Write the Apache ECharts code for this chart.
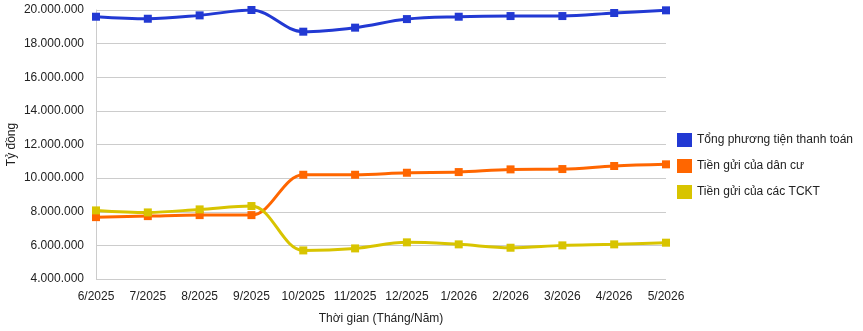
<!DOCTYPE html>
<html><head><meta charset="utf-8">
<script src="https://cdn.jsdelivr.net/npm/echarts@6/dist/echarts.min.js"></script>
<style>html,body{margin:0;padding:0;background:#fff}#c{width:863px;height:331px}</style>
</head><body><div id="c"></div>
<script>
const categories = ["6/2025","7/2025","8/2025","9/2025","10/2025","11/2025","12/2025","1/2026","2/2026","3/2026","4/2026","5/2026"];
const tongPTTT = [19600000,19480000,19680000,20000000,18710000,18950000,19460000,19600000,19640000,19640000,19820000,19980000];
const tienGuiDanCu = [7680000,7740000,7800000,7800000,10200000,10200000,10320000,10360000,10520000,10540000,10720000,10820000];
const tienGuiTCKT = [8080000,7960000,8140000,8340000,5700000,5820000,6180000,6060000,5860000,6000000,6060000,6160000];
const seriesNames = ["Tổng phương tiện thanh toán","Tiền gửi của dân cư","Tiền gửi của các TCKT"];
const colors = ["#2239d3","#ff6600","#d8c400"];
const fmt = v => String(v).replace(/\B(?=(\d{3})+(?!\d))/g, ".");
const chart = echarts.init(document.getElementById('c'));
const mk = (name, data, color) => ({
  name, type: 'line', data, smooth: 0.35, symbol: 'rect', symbolSize: 8,
  lineStyle: {width: 3, color}, itemStyle: {color}
});
chart.setOption({
  animation: false,
  textStyle: {fontFamily: 'Liberation Sans, Arial, sans-serif'},
  grid: {left: 96, right: 197, top: 10, bottom: 52, containLabel: false, outerBoundsMode: 'none'},
  legend: {
    orient: 'vertical', right: 5, top: 128, itemGap: 12,
    icon: 'rect', itemWidth: 15, itemHeight: 14,
    textStyle: {fontSize: 12, color: '#222'},
    data: seriesNames
  },
  xAxis: {
    type: 'category', data: categories, boundaryGap: false,
    name: 'Thời gian (Tháng/Năm)', nameLocation: 'middle', nameGap: 34, nameMoveOverlap: false,
    nameTextStyle: {fontSize: 12, color: '#222'},
    axisLine: {show: false}, axisTick: {show: false},
    axisLabel: {fontSize: 12, color: '#222', margin: 12, interval: 0}
  },
  yAxis: {
    type: 'value', min: 4000000, max: 20000000, interval: 2000000,
    name: 'Tỷ đồng', nameLocation: 'middle', nameGap: 84, nameRotate: 90, nameMoveOverlap: false,
    nameTextStyle: {fontSize: 12, color: '#222', verticalAlign: 'middle'},
    axisLine: {show: true, lineStyle: {color: '#ccc'}}, axisTick: {show: false},
    axisLabel: {fontSize: 12, color: '#222', formatter: fmt, margin: 12},
    splitLine: {lineStyle: {color: '#ccc'}}
  },
  series: [
    mk(seriesNames[0], tongPTTT, colors[0]),
    mk(seriesNames[1], tienGuiDanCu, colors[1]),
    mk(seriesNames[2], tienGuiTCKT, colors[2])
  ]
});
</script></body></html>
